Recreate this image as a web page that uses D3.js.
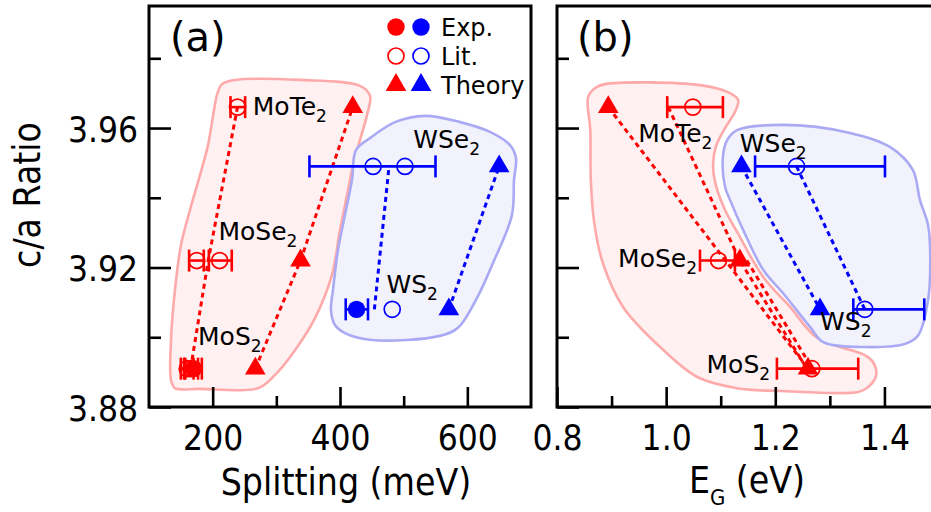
<!DOCTYPE html>
<html><head><meta charset="utf-8">
<script src="https://cdn.jsdelivr.net/npm/d3@7"></script>
<style>
html,body{margin:0;padding:0;background:#fff;}
svg{display:block;}
.cond{font-family:'DejaVu Sans Condensed','DejaVu Sans',sans-serif;font-stretch:condensed;}
.reg{font-family:'DejaVu Sans',Verdana,sans-serif;}
</style>
</head><body>
<svg id="c" width="931" height="512"></svg>
<script>
// ---------------- data ----------------
const materials = ["MoS2", "MoSe2", "MoTe2", "WS2", "WSe2"];
const family    = ["Mo", "Mo", "Mo", "W", "W"];
const caRatio   = [3.891, 3.922, 3.966, 3.908, 3.949];

// panel (a): spin-orbit splitting (meV)
const splitExp = [
  {m: "MoS2", v: 170, lo: 155, hi: 183},
  {m: "WS2",  v: 426, lo: 409, hi: 444}
];
const splitLit = [
  {m: "MoS2",  v: 160, lo: 150, hi: 170},
  {m: "MoS2",  v: 166, lo: 157, hi: 177},
  {m: "MoSe2", v: 175, lo: 163, hi: 186},
  {m: "MoSe2", v: 211, lo: 194, hi: 230},
  {m: "MoTe2", v: 239, lo: 228, hi: 251},
  {m: "WSe2",  v: 452, lo: 352, hi: 550},
  {m: "WSe2",  v: 502},
  {m: "WS2",   v: 482}
];
const splitTheory = [267, 338, 420, 571, 650];

// panel (b): band gap (eV)
const gapLit = [
  {m: "MoS2",  v: 1.267, lo: 1.203, hi: 1.352},
  {m: "MoSe2", v: 1.096, lo: 1.062, hi: 1.126},
  {m: "MoTe2", v: 1.049, lo: 1.002, hi: 1.104},
  {m: "WS2",   v: 1.364, lo: 1.343, hi: 1.473},
  {m: "WSe2",  v: 1.239, lo: 1.163, hi: 1.401}
];
const gapTheory = [1.260, 1.135, 0.894, 1.282, 1.138];

// dashed guide lines in panel (b) (data units: [E_G, c/a])
const gapLinesMo = [
  [[0.894, 3.966], [1.260, 3.891]],
  [[1.004, 3.966], [1.135, 3.922], [1.258, 3.891]],
  [[1.148, 3.922], [1.268, 3.891]]
];
const gapLinesW = [
  [[1.138, 3.949], [1.282, 3.908]],
  [[1.239, 3.949], [1.364, 3.908]]
];

// shaded group regions (data units)
const regionMoA = [[206.8,3.9695],[214.7,3.9726],[235.1,3.9738],[337.2,3.9738],[431.4,3.9721],[447.1,3.9693],[442.4,3.9637],[431.4,3.9566],[418.8,3.9480],[412.6,3.9422],[400.0,3.9308],[387.4,3.9179],[360.7,3.9055],[329.3,3.8963],[297.9,3.8892],[271.2,3.8854],[180.1,3.8852],[140.8,3.8854],[134.6,3.8877],[134.6,3.8992],[140.8,3.9136],[150.3,3.9265],[164.4,3.9365],[180.1,3.9465],[192.7,3.9551],[202.1,3.9652]];
const regionWA = [[425.1,3.9537],[418.8,3.9451],[407.8,3.9351],[396.8,3.9250],[389.0,3.9136],[385.8,3.9078],[392.1,3.9035],[407.8,3.9012],[450.2,3.8992],[557.0,3.9004],[585.3,3.9027],[615.2,3.9113],[640.3,3.9213],[670.1,3.9351],[673.3,3.9451],[676.4,3.9514],[667.0,3.9551],[635.6,3.9589],[588.5,3.9617],[533.5,3.9635],[486.4,3.9617],[447.1,3.9571]];
const regionMoB = [[0.857,3.9689],[0.870,3.9715],[0.888,3.9726],[1.062,3.9723],[1.117,3.9700],[1.132,3.9680],[1.126,3.9646],[1.108,3.9600],[1.091,3.9546],[1.086,3.9494],[1.091,3.9437],[1.108,3.9365],[1.130,3.9302],[1.178,3.9173],[1.227,3.9087],[1.277,3.8998],[1.364,3.8949],[1.379,3.8929],[1.385,3.8892],[1.370,3.8857],[1.352,3.8843],[1.209,3.8846],[1.130,3.8854],[1.057,3.8886],[0.989,3.8972],[0.921,3.9087],[0.884,3.9213],[0.868,3.9331],[0.862,3.9451],[0.861,3.9594]];
const regionWB = [[1.104,3.9517],[1.108,3.9431],[1.117,3.9394],[1.141,3.9308],[1.178,3.9193],[1.214,3.9127],[1.264,3.9029],[1.288,3.8986],[1.366,3.8972],[1.438,3.8981],[1.462,3.9006],[1.480,3.9107],[1.484,3.9233],[1.480,3.9322],[1.465,3.9394],[1.452,3.9480],[1.410,3.9546],[1.337,3.9586],[1.214,3.9609],[1.130,3.9594],[1.112,3.9566]];

// material label anchors (data units, left / baseline)
const labelsA = [
  {m: "MoTe2", x: 263, y: 3.9637}, {m: "WSe2", x: 515, y: 3.9542},
  {m: "MoSe2", x: 209, y: 3.9279}, {m: "WS2", x: 473, y: 3.9126},
  {m: "MoS2", x: 177, y: 3.8978}
];
const labelsB = [
  {m: "MoTe2", x: 0.949, y: 3.9561}, {m: "WSe2", x: 1.135, y: 3.9532},
  {m: "MoSe2", x: 0.912, y: 3.9202}, {m: "WS2", x: 1.282, y: 3.9021},
  {m: "MoS2", x: 1.074, y: 3.8897}
];

const yMajor = [3.88, 3.92, 3.96], yMinor = [3.90, 3.94, 3.98];
const xMajorA = [200, 400, 600], xMinorA = [300, 500];
const xMajorB = [0.8, 1.0, 1.2, 1.4], xMinorB = [0.9, 1.1, 1.3];
const legendItems = ["Exp.", "Lit.", "Theory"];

// ---------------- drawing ----------------
const RED = "#ff0000", BLUE = "#0000ff";
const colorOf = m => family[materials.indexOf(m)] === "Mo" ? RED : BLUE;
const caOf = m => caRatio[materials.indexOf(m)];

const svg = d3.select("#c");
svg.append("rect").attr("width", 931).attr("height", 512).attr("fill", "#fff");

const Y  = d3.scaleLinear().domain([3.88, 3.995]).range([407, 6]);
const XA = d3.scaleLinear().domain([100, 700]).range([149, 531]);
const XB = d3.scaleLinear().domain([0.8, 1.5]).range([557, 939]);

function blob(g, pts, xs, fill, stroke) {
  const line = d3.line().x(d => xs(d[0])).y(d => Y(d[1])).curve(d3.curveCatmullRomClosed.alpha(0.5));
  g.append("path").attr("d", line(pts)).attr("fill", fill).attr("stroke", stroke).attr("stroke-width", 2.6);
}
function dashed(g, pts, xs, color) {
  const line = d3.line().x(d => xs(d[0])).y(d => Y(d[1]));
  g.append("path").attr("d", line(pts)).attr("fill", "none").attr("stroke", color)
    .attr("stroke-width", 3).attr("stroke-dasharray", "5,4");
}
function errbar(g, d, xs) {
  if (d.lo === undefined) return;
  const y = Y(caOf(d.m)), c = colorOf(d.m);
  g.append("line").attr("x1", xs(d.lo)).attr("x2", xs(d.hi)).attr("y1", y).attr("y2", y)
    .attr("stroke", c).attr("stroke-width", 2.6);
  [d.lo, d.hi].forEach(v => g.append("line").attr("x1", xs(v)).attr("x2", xs(v))
    .attr("y1", y - 11).attr("y2", y + 11).attr("stroke", c).attr("stroke-width", 2.6));
}
const tri = d3.symbol().type(d3.symbolTriangle).size(185);
function marker(g, kind, x, y, c) {
  if (kind === "exp") g.append("circle").attr("cx", x).attr("cy", y).attr("r", 8.7).attr("fill", c);
  else if (kind === "lit") g.append("circle").attr("cx", x).attr("cy", y).attr("r", 8).attr("fill", "none").attr("stroke", c).attr("stroke-width", 1.7);
  else g.append("path").attr("d", tri()).attr("transform", `translate(${x},${y})`).attr("fill", c);
}
function matLabel(g, d, xs) {
  const base = d.m.replace(/2$/, "");
  const t = g.append("text").attr("class", "reg").attr("x", xs(d.x)).attr("y", Y(d.y))
    .attr("font-size", 25).attr("fill", "#000");
  t.append("tspan").text(base);
  t.append("tspan").attr("font-size", 17).attr("dy", 7).text("2");
}
function axes(g, xs, xMaj, xMin, fmt, withYLabels, x0) {
  const ax1 = g.append("g").attr("transform", "translate(0,407)")
    .call(d3.axisBottom(xs).tickValues(xMaj).tickSize(-20).tickPadding(18).tickFormat(fmt));
  const ax2 = g.append("g").attr("transform", "translate(0,407)")
    .call(d3.axisBottom(xs).tickValues(xMin).tickSize(-11).tickFormat(""));
  const ay1 = g.append("g").attr("transform", `translate(${x0},0)`)
    .call(d3.axisLeft(Y).tickValues(yMajor).tickSize(-22).tickPadding(11)
      .tickFormat(withYLabels ? d3.format(".2f") : ""));
  const ay2 = g.append("g").attr("transform", `translate(${x0},0)`)
    .call(d3.axisLeft(Y).tickValues(yMinor).tickSize(-12).tickFormat(""));
  [ax1, ax2, ay1, ay2].forEach(a => {
    a.select(".domain").remove();
    a.selectAll("line").attr("stroke", "#000").attr("stroke-width", 2.6);
    a.selectAll("text").attr("class", "cond").attr("font-size", 35).attr("fill", "#000")
      .attr("font-family", null);
  });
  ay1.selectAll("text").attr("dy", "0.38em");
}

// ---- panel (a) ----
const ga = svg.append("g");
blob(ga, regionMoA, XA, "#fff1f1", "#ffaaaa");
blob(ga, regionWA, XA, "#f2f2fd", "#aaaaf4");
["Mo", "W"].forEach(f => {
  const mats = materials.filter((m, i) => family[i] === f);
  const avgPts = mats.map(m => [d3.mean(splitExp.concat(splitLit).filter(d => d.m === m), d => d.v), caOf(m)]);
  const thPts = mats.map(m => [splitTheory[materials.indexOf(m)], caOf(m)]);
  dashed(ga, avgPts, XA, f === "Mo" ? RED : BLUE);
  dashed(ga, thPts, XA, f === "Mo" ? RED : BLUE);
});
splitLit.forEach(d => errbar(ga, d, XA));
splitExp.forEach(d => errbar(ga, d, XA));
splitLit.forEach(d => marker(ga, "lit", XA(d.v), Y(caOf(d.m)), colorOf(d.m)));
splitExp.forEach(d => marker(ga, "exp", XA(d.v), Y(caOf(d.m)), colorOf(d.m)));
materials.forEach((m, i) => marker(ga, "th", XA(splitTheory[i]), Y(caRatio[i]), colorOf(m)));
labelsA.forEach(d => matLabel(ga, d, XA));
axes(ga, XA, xMajorA, xMinorA, d3.format("d"), true, 149);
ga.append("rect").attr("x", 149).attr("y", 6).attr("width", 382).attr("height", 401)
  .attr("fill", "none").attr("stroke", "#000").attr("stroke-width", 3);

// ---- panel (b) ----
const gb = svg.append("g");
blob(gb, regionMoB, XB, "#fff1f1", "#ffaaaa");
blob(gb, regionWB, XB, "#f2f2fd", "#aaaaf4");
gapLinesMo.forEach(p => dashed(gb, p, XB, RED));
gapLinesW.forEach(p => dashed(gb, p, XB, BLUE));
gapLit.forEach(d => errbar(gb, d, XB));
gapLit.forEach(d => marker(gb, "lit", XB(d.v), Y(caOf(d.m)), colorOf(d.m)));
materials.forEach((m, i) => marker(gb, "th", XB(gapTheory[i]), Y(caRatio[i]), colorOf(m)));
labelsB.forEach(d => matLabel(gb, d, XB));
axes(gb, XB, xMajorB, xMinorB, d3.format(".1f"), false, 557);
gb.append("rect").attr("x", 557).attr("y", 6).attr("width", 382).attr("height", 401)
  .attr("fill", "none").attr("stroke", "#000").attr("stroke-width", 3);

// ---- panel tags ----
svg.append("text").attr("class", "reg").attr("x", 170).attr("y", 51).attr("font-size", 40).text("(a)");
svg.append("text").attr("class", "reg").attr("x", 577).attr("y", 51).attr("font-size", 40).text("(b)");

// ---- legend ----
const lg = svg.append("g");
legendItems.forEach((t, i) => {
  const kind = ["exp", "lit", "th"][i];
  const y = 27 + i * 29;
  marker(lg, kind, 396, y, RED);
  marker(lg, kind, 421, y, BLUE);
  lg.append("text").attr("class", "reg").attr("x", 441).attr("y", y + 8.5)
    .attr("font-size", 24).attr("fill", "#000").text(t);
});

// ---- axis titles ----
svg.append("text").attr("class", "cond").attr("font-size", 37)
  .attr("transform", "translate(40,195) rotate(-90)").attr("text-anchor", "middle").text("c/a Ratio");
svg.append("text").attr("class", "cond").attr("font-size", 37)
  .attr("x", 346).attr("y", 495).attr("text-anchor", "middle").text("Splitting (meV)");
const eg = svg.append("text").attr("class", "cond").attr("font-size", 37)
  .attr("x", 747).attr("y", 493).attr("text-anchor", "middle");
eg.append("tspan").text("E");
eg.append("tspan").attr("font-size", 22).attr("dy", 12).text("G");
eg.append("tspan").attr("dy", -12).text(" (eV)");
</script>
</body></html>
